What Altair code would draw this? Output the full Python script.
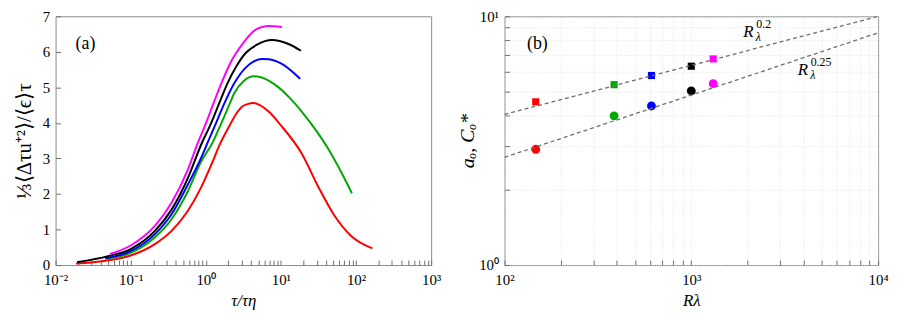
import altair as alt
import pandas as pd

FONT = "Liberation Serif"
TICK = "#6f6f6f"
TSZ = 5

# ---------------- panel (a) data ----------------
run_names = ["red", "green", "blue", "black", "magenta"]
run_colors = ["#ff0000", "#00a800", "#0000ff", "#000000", "#ff00ff"]

red_tau = [0.0187, 0.046, 0.1, 0.21, 0.35, 0.575, 0.86, 1.17, 1.58, 2.14, 2.62, 3.0, 3.6, 4.3, 6.86, 10.0, 18.9, 31.3, 52, 86, 165]
red_val = [0.04, 0.12, 0.27, 0.59, 0.96, 1.52, 2.17, 2.8, 3.45, 3.98, 4.3, 4.45, 4.53, 4.56, 4.32, 3.93, 3.14, 2.21, 1.38, 0.82, 0.47]

green_tau = [0.046, 0.1, 0.21, 0.35, 0.575, 0.86, 1.22, 1.6, 2.08, 2.37, 3.2, 4.36, 6.86, 9.3, 12.6, 18.9, 29.8, 42.4, 63.6, 88]
green_val = [0.18, 0.34, 0.78, 1.29, 2.07, 2.9, 3.43, 3.98, 4.54, 4.82, 5.18, 5.31, 5.19, 5.0, 4.74, 4.32, 3.77, 3.28, 2.61, 2.02]

blue_tau = [0.046, 0.1, 0.21, 0.35, 0.575, 0.86, 1.05, 1.36, 1.76, 2.37, 3.37, 4.36, 5.6, 6.86, 10.3, 18]
blue_val = [0.19, 0.39, 0.87, 1.43, 2.26, 3.0, 3.43, 3.98, 4.54, 5.1, 5.55, 5.73, 5.8, 5.79, 5.66, 5.24]

black_tau = [0.0193, 0.05, 0.1, 0.21, 0.35, 0.575, 0.88, 1.17, 1.5, 1.93, 2.6, 3.37, 4.8, 7.6, 12.6, 18.5]
black_val = [0.08, 0.25, 0.45, 0.96, 1.56, 2.44, 3.42, 3.98, 4.54, 5.1, 5.62, 5.96, 6.2, 6.33, 6.22, 6.03]

magenta_tau = [0.053, 0.1, 0.21, 0.35, 0.575, 0.78, 1.0, 1.26, 1.6, 2.2, 3.05, 4.57, 6.86, 10.3]
magenta_val = [0.31, 0.55, 1.1, 1.75, 2.68, 3.43, 3.98, 4.54, 5.1, 5.75, 6.21, 6.62, 6.73, 6.70]

a_xdomain = [0.01, 1000]
a_ydomain = [0, 7]
a_xticks = [0.01, 0.1, 1, 10, 100, 1000]
a_xlabels = ["10⁻²", "10⁻¹", "10⁰", "10¹", "10²", "10³"]
a_xminor = [m * d for d in [0.01, 0.1, 1, 10, 100] for m in range(2, 10)]
a_yticks = [0, 1, 2, 3, 4, 5, 6, 7]

# ---------------- panel (b) data ----------------
re_lambda = [147, 386, 612, 1000, 1310]
a_o = [4.53, 5.31, 5.78, 6.30, 6.74]
c_o = [2.92, 3.98, 4.36, 5.01, 5.36]

fit_names = ["p02", "p02", "p025", "p025"]
fit_x = [100, 10000, 100, 10000]
fit_y = [4.03, 10.0, 2.71, 8.58]

lbl_x = [1900, 3715]
lbl_y = [8.25, 5.82]
lbl_sup = ["0.2", "0.25"]

b_xdomain = [100, 10000]
b_ydomain = [1, 10]
b_xticks = [100, 1000, 10000]
b_xlabels = ["10²", "10³", "10⁴"]
b_xminor = [m * d for d in [100, 1000] for m in range(2, 10)]
b_yticks = [1, 10]
b_ylabels = ["10⁰", "10¹"]
b_yminor = [2, 3, 4, 5, 6, 7, 8, 9]

panel_tags = ["(a)", "(b)"]
tag_x = [0.025, 150]
tag_y = [6.21, 7.73]


def label_expr(vals, labels):
    expr = "''"
    for v, l in reversed(list(zip(vals, labels))):
        expr = f"abs(datum.value-{v})<{v}*1e-6 ? '{l}' : ({expr})"
    return expr


# inward ticks: the axis line is pulled into the plot by the tick length,
# so the ticks end on the frame and the labels stay where they belong
tick_kw = dict(ticks=True, tickSize=TSZ, offset=-TSZ, tickColor=TICK, tickWidth=1, domain=False)

# ---------------- build panel (a) ----------------
frames = []
for name, t, v in [("red", red_tau, red_val), ("green", green_tau, green_val),
                   ("blue", blue_tau, blue_val), ("black", black_tau, black_val),
                   ("magenta", magenta_tau, magenta_val)]:
    frames.append(pd.DataFrame({"tau": t, "val": v, "run": name}))
df_a = pd.concat(frames, ignore_index=True)

xs_a = alt.Scale(type="log", domain=a_xdomain, nice=False)
ys_a = alt.Scale(domain=a_ydomain, nice=False, zero=False)

lines_a = alt.Chart(df_a).mark_line(strokeWidth=2, interpolate="monotone").encode(
    x=alt.X("tau:Q", scale=xs_a,
            axis=alt.Axis(orient="bottom", values=a_xticks + a_xminor,
                          labelExpr=label_expr(a_xticks, a_xlabels),
                          grid=False, labelFlush=False, labelOverlap=False,
                          labelPadding=8, title="τ/τη", titleFontStyle="italic", titlePadding=5,
                          **tick_kw)),
    y=alt.Y("val:Q", scale=ys_a,
            axis=alt.Axis(orient="left", values=a_yticks, grid=False,
                          labelOverlap=False, labelPadding=6, title="⅓⟨Δτu⁺²⟩/⟨ϵ⟩τ",
                          titleFontSize=21, titlePadding=8, **tick_kw)),
    color=alt.Color("run:N", scale=alt.Scale(domain=run_names, range=run_colors), legend=None),
    detail="run:N",
)

df_tag_a = pd.DataFrame({"x": [tag_x[0]], "y": [tag_y[0]], "t": [panel_tags[0]]})
tag_a = alt.Chart(df_tag_a).mark_text(font=FONT, fontSize=18, color="black").encode(
    x=alt.X("x:Q", scale=xs_a, axis=None), y=alt.Y("y:Q", scale=ys_a, axis=None), text="t:N")

panel_a = alt.layer(lines_a, tag_a).resolve_axis(
    x="independent", y="independent").properties(width=379, height=251)

# ---------------- build panel (b) ----------------
df_b = pd.DataFrame({"re": re_lambda, "a": a_o, "c": c_o, "run": run_names})
df_fit = pd.DataFrame({"re": fit_x, "v": fit_y, "g": fit_names})
df_lbl = pd.DataFrame({"re": lbl_x, "v": lbl_y, "sup": lbl_sup})
df_tag_b = pd.DataFrame({"x": [tag_x[1]], "y": [tag_y[1]], "t": [panel_tags[1]]})

xs_b = alt.Scale(type="log", domain=b_xdomain, nice=False)
ys_b = alt.Scale(type="log", domain=b_ydomain, nice=False)
col_b = alt.Color("run:N", scale=alt.Scale(domain=run_names, range=run_colors), legend=None)

grid_kw = dict(grid=True, gridColor="#dedede", gridDash=[1, 1.5], gridWidth=0.8)

squares = alt.Chart(df_b).mark_square(size=52, opacity=1).encode(
    x=alt.X("re:Q", scale=xs_b,
            axis=alt.Axis(orient="bottom", values=b_xticks + b_xminor,
                          labelExpr=label_expr(b_xticks, b_xlabels),
                          labelFlush=False, labelOverlap=False, labelPadding=8,
                          title="Rλ", titleFontStyle="italic", titlePadding=5,
                          **grid_kw, **tick_kw)),
    y=alt.Y("a:Q", scale=ys_b,
            axis=alt.Axis(orient="left", values=b_yticks + b_yminor,
                          labelExpr=label_expr(b_yticks, b_ylabels),
                          labelOverlap=False, labelPadding=6, title="aₒ,  Cₒ*",
                          titleFontStyle="italic", titleFontSize=20, titlePadding=1,
                          **grid_kw, **tick_kw)),
    color=col_b,
)
circles = alt.Chart(df_b).mark_circle(size=80, opacity=1).encode(
    x=alt.X("re:Q", scale=xs_b, axis=None),
    y=alt.Y("c:Q", scale=ys_b, axis=None),
    color=col_b,
)
fits = alt.Chart(df_fit).mark_line(strokeDash=[4, 3], color="#6e6e6e", strokeWidth=1.3, clip=True).encode(
    x=alt.X("re:Q", scale=xs_b, axis=None),
    y=alt.Y("v:Q", scale=ys_b, axis=None),
    detail="g:N",
)
lbl_R = alt.Chart(df_lbl).mark_text(font=FONT, fontSize=17, fontStyle="italic", align="left",
                                    baseline="alphabetic", color="black").encode(
    x=alt.X("re:Q", scale=xs_b, axis=None), y=alt.Y("v:Q", scale=ys_b, axis=None),
    text=alt.value("R"))
lbl_sup_t = alt.Chart(df_lbl).mark_text(font=FONT, fontSize=12, align="left", baseline="alphabetic",
                                        dx=13, dy=-9, color="black").encode(
    x=alt.X("re:Q", scale=xs_b, axis=None), y=alt.Y("v:Q", scale=ys_b, axis=None),
    text="sup:N")
lbl_sub_t = alt.Chart(df_lbl).mark_text(font=FONT, fontSize=12, fontStyle="italic", align="left",
                                        baseline="alphabetic", dx=12.5, dy=4, color="black").encode(
    x=alt.X("re:Q", scale=xs_b, axis=None), y=alt.Y("v:Q", scale=ys_b, axis=None),
    text=alt.value("λ"))
tag_b = alt.Chart(df_tag_b).mark_text(font=FONT, fontSize=18, color="black").encode(
    x=alt.X("x:Q", scale=xs_b, axis=None), y=alt.Y("y:Q", scale=ys_b, axis=None), text="t:N")

panel_b = alt.layer(
    squares, circles, fits, lbl_R, lbl_sup_t, lbl_sub_t, tag_b
).resolve_axis(x="independent", y="independent").properties(width=377, height=251)

chart = alt.hconcat(panel_a, panel_b, spacing=15).properties(
    padding={"left": 5, "top": -1, "right": 0, "bottom": 0}
).configure_view(stroke="#8a8a8a", strokeWidth=1).configure_axis(
    labelFont=FONT, titleFont=FONT, labelFontSize=15, titleFontSize=17,
    labelColor="black", titleColor="black", titleFontWeight="normal"
)

chart.save("out.html", embed_options={"renderer": "svg", "actions": False})
